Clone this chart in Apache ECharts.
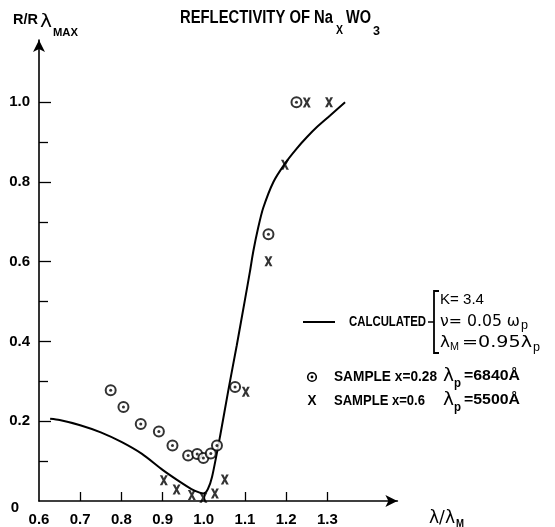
<!DOCTYPE html>
<html><head><meta charset="utf-8">
<script src="https://cdn.jsdelivr.net/npm/echarts@6/dist/echarts.min.js"></script>
<style>html,body{margin:0;padding:0;background:#fff}#c{width:555px;height:527px}</style>
</head><body><div id="c"></div>
<script>
// Calculated curve (λ/λM, R/Rmax)
const curveX = [0.627,0.65,0.70,0.75,0.80,0.85,0.90,0.935,0.97,0.99,1.0,1.01,1.02,1.04,1.06,1.08,1.10,1.112,1.12,1.132,1.144,1.169,1.197,1.225,1.25,1.274,1.306,1.343];
const curveY = [0.206,0.203,0.19,0.172,0.148,0.118,0.078,0.053,0.030,0.021,0.019,0.030,0.06,0.165,0.28,0.39,0.505,0.575,0.625,0.685,0.734,0.80,0.846,0.883,0.912,0.937,0.966,1.0];
// Sample x=0.28 (circles)
const s028X = [0.774,0.805,0.847,0.891,0.924,0.962,0.984,0.999,1.017,1.032,1.076,1.157,1.225];
const s028Y = [0.278,0.236,0.193,0.174,0.139,0.114,0.118,0.108,0.119,0.139,0.286,0.669,1.0];
// Sample x=0.6 (crosses)
const s06X = [0.903,0.934,0.971,0.999,1.027,1.051,1.102,1.157,1.197,1.25,1.304];
const s06Y = [0.052,0.029,0.015,0.008,0.019,0.054,0.274,0.601,0.843,0.999,1.0];
// Ticks
const xLabels = [0.6,0.7,0.8,0.9,1.0,1.1,1.2,1.3];
const xTicks = [0.7,0.8,0.9,1.0,1.1,1.2,1.3];
const yLabels = [0.2,0.4,0.6,0.8,1.0];
const yMinor = [0.1,0.3,0.5,0.7,0.9];

const SANS = "'Liberation Sans',Arial,sans-serif";
const GREEK = "'DejaVu Sans',sans-serif";

const zip = (a,b)=>a.map((v,i)=>[v,b[i]]);
const xPath = 'path://M0,0L3.2,0L5,3.6L6.8,0L10,0L6.6,6L10,12L6.8,12L5,8.4L3.2,12L0,12L3.4,6Z';

const mctx = document.createElement('canvas').getContext('2d');
// text fitted to a target width (horizontal scale), vertically centred on y
function fit(x, y, text, size, weight, family, w, align){
  const font = weight + ' ' + size + 'px ' + family;
  mctx.font = font;
  const tw = mctx.measureText(text).width;
  const sx = w ? w / tw : 1;
  return {type:'text', x:x, y:y, scaleX:sx, scaleY:1, z:10,
    style:{text:text, font:font, fill:'#000', align:align||'left', verticalAlign:'middle'}};
}
const B = 'bold', N = 'normal';

const chart = echarts.init(document.getElementById('c'));
const axisLineStyle = {color:'#000', width:1.6};
chart.setOption({
  animation:false,
  backgroundColor:'#fff',
  grid:{left:39, right:157.6, top:40, bottom:22, containLabel:false},
  xAxis:{type:'value', min:0.6, max:1.47,
    axisLine:{show:true, onZero:false, symbol:['none','arrow'], symbolSize:[9,12], lineStyle:axisLineStyle},
    axisTick:{show:true, inside:true, length:9, customValues:xTicks, lineStyle:{color:'#000', width:1.3}},
    axisLabel:{customValues:xLabels, formatter:v=>v.toFixed(1), margin:11, color:'#000', fontFamily:SANS, fontWeight:'bold', fontSize:15},
    splitLine:{show:false}},
  yAxis:[{type:'value', min:0, max:1.156,
    axisLine:{show:true, onZero:false, symbol:['none','arrow'], symbolSize:[9,12], lineStyle:axisLineStyle},
    axisTick:{show:true, inside:true, length:12, customValues:yLabels, lineStyle:{color:'#000', width:1.3}},
    axisLabel:{customValues:yLabels, formatter:v=>v.toFixed(1), margin:9, color:'#000', fontFamily:SANS, fontWeight:'bold', fontSize:15},
    splitLine:{show:false}},
   {type:'value', min:0, max:1.156, position:'left',
    axisLine:{show:false},
    axisTick:{show:true, inside:true, length:9, customValues:yMinor, lineStyle:{color:'#000', width:1.3}},
    axisLabel:{show:false}, splitLine:{show:false}}],
  series:[
    {type:'line', data:zip(curveX,curveY), smooth:0.25, showSymbol:false, lineStyle:{color:'#000', width:2}, z:2},
    {type:'scatter', data:zip(s028X,s028Y), symbol:'emptyCircle', symbolSize:10, itemStyle:{color:'#000', borderWidth:1.5}, z:3},
    {type:'scatter', data:zip(s028X,s028Y), symbol:'circle', symbolSize:3, itemStyle:{color:'#000'}, z:4},
    {type:'scatter', data:zip(s06X,s06Y), symbol:xPath, symbolSize:[8,10], itemStyle:{color:'#000'}, z:3}
  ],
  graphic:[
    // title
    fit(180, 18.5, 'REFLECTIVITY OF Na', 18, B, SANS, 153),
    fit(336, 31, 'X', 12, B, SANS, 7),
    fit(346, 18.5, 'WO', 18, B, SANS, 25),
    fit(373, 32, '3', 12, B, SANS, 7),
    // y axis name
    fit(13, 20, 'R/R', 15, B, SANS, 25),
    fit(40, 22, 'λ', 18, N, GREEK, 12),
    fit(53, 33, 'MAX', 11, B, SANS, 25),
    // zero label
    fit(15, 508, '0', 15, B, SANS, 0, 'center'),
    // x axis name
    fit(429, 519, 'λ/λ', 17, N, GREEK, 26),
    fit(456, 524, 'M', 10, B, SANS, 8),
    // legend: calculated
    {type:'line', shape:{x1:303, y1:322, x2:335, y2:322}, style:{stroke:'#000', lineWidth:2}},
    fit(349, 322, 'CALCULATED', 14, B, SANS, 77),
    {type:'line', shape:{x1:428, y1:322, x2:434, y2:322}, style:{stroke:'#000', lineWidth:1.5}},
    {type:'polyline', shape:{points:[[439,291],[434,291],[434,353],[439,353]]}, style:{stroke:'#000', lineWidth:1.8, fill:null}},
    fit(440, 300, 'K= 3.4', 15, N, SANS, 44),
    fit(440, 322, 'ν= 0.05 ω', 15, N, GREEK, 80),
    fit(521, 326, 'p', 12, N, SANS, 7),
    fit(440, 343, 'λ', 16, N, GREEK, 10),
    fit(450, 347, 'M', 11, N, SANS, 9),
    fit(462, 343, '=0.95λ', 15, N, GREEK, 70),
    fit(533, 348, 'p', 12, N, SANS, 7),
    // legend: sample 0.28
    {type:'circle', shape:{cx:312, cy:377, r:4.3}, style:{fill:'#fff', stroke:'#000', lineWidth:1.6}},
    {type:'circle', shape:{cx:312, cy:377, r:1.4}, style:{fill:'#000'}},
    fit(334, 377, 'SAMPLE x=0.28', 14, B, SANS, 103),
    fit(443, 377, 'λ', 17, N, GREEK, 11),
    fit(454, 383, 'p', 13, B, SANS, 7),
    fit(464, 376, '=6840Å', 14, B, SANS, 56),
    // legend: sample 0.6
    fit(312, 401, 'X', 14, B, SANS, 9, 'center'),
    fit(334, 401, 'SAMPLE x=0.6', 14, B, SANS, 91),
    fit(443, 401, 'λ', 17, N, GREEK, 11),
    fit(454, 407, 'p', 13, B, SANS, 7),
    fit(464, 400, '=5500Å', 14, B, SANS, 56)
  ]
});
</script></body></html>
